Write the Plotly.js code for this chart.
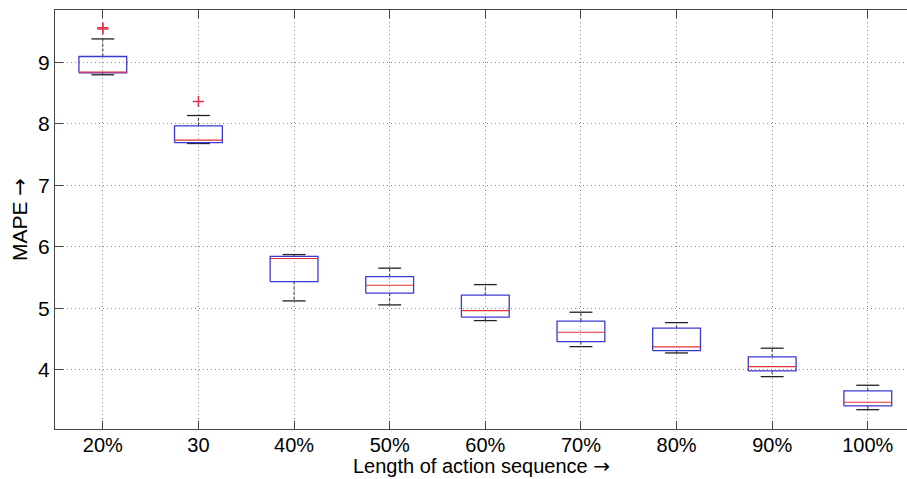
<!DOCTYPE html>
<html>
<head>
<meta charset="utf-8">
<script src="https://cdn.plot.ly/plotly-3.0.1.min.js"></script>
<style>html,body{margin:0;padding:0;background:#fff;overflow:hidden}#chart{width:907px;height:479px}</style>
</head>
<body>
<div id="chart"></div>
<script>
// Data (MAPE per sequence length)
var categories = ["20%", "30", "40%", "50%", "60%", "70%", "80%", "90%", "100%"];
var upperWhisker = [9.38, 8.135, 5.875, 5.654, 5.387, 4.938, 4.769, 4.353, 3.751];
var q3Values     = [9.094, 7.967, 5.846, 5.517, 5.215, 4.792, 4.678, 4.211, 3.659];
var medians      = [8.841, 7.735, 5.810, 5.377, 4.964, 4.613, 4.374, 4.054, 3.475];
var q1Values     = [8.829, 7.696, 5.436, 5.247, 4.857, 4.460, 4.314, 3.984, 3.415];
var lowerWhisker = [8.797, 7.680, 5.122, 5.057, 4.802, 4.379, 4.276, 3.891, 3.354];
var outlierCategory = ["20%", "20%", "30"];
var outlierValues   = [9.54, 9.56, 8.363];
var xTitle = 'Length of action sequence';
var yTitle = 'MAPE';

var BOX_HALF = 0.25, CAP_HALF = 0.12;
var idx = function(c){ return categories.indexOf(c); };

var bx=[],by=[],mx=[],my=[],wx=[],wy=[],cx=[],cy=[];
categories.forEach(function(c,i){
  bx.push(i-BOX_HALF,i+BOX_HALF,i+BOX_HALF,i-BOX_HALF,i-BOX_HALF,null);
  by.push(q1Values[i],q1Values[i],q3Values[i],q3Values[i],q1Values[i],null);
  mx.push(i-BOX_HALF,i+BOX_HALF,null);
  my.push(medians[i],medians[i],null);
  wx.push(i,i,null,i,i,null);
  wy.push(q3Values[i],upperWhisker[i],null,q1Values[i],lowerWhisker[i],null);
  cx.push(i-CAP_HALF,i+CAP_HALF,null,i-CAP_HALF,i+CAP_HALF,null);
  cy.push(upperWhisker[i],upperWhisker[i],null,lowerWhisker[i],lowerWhisker[i],null);
});

var traces = [
  {x:wx,y:wy,mode:'lines',line:{color:'#333',width:1,dash:'3px,2px'},hoverinfo:'skip'},
  {x:cx,y:cy,mode:'lines',line:{color:'#222',width:1.3},hoverinfo:'skip'},
  {x:bx,y:by,mode:'lines',line:{color:'#3a3ad0',width:1.3},hoverinfo:'skip'},
  {x:mx,y:my,mode:'lines',line:{color:'#e0303a',width:1.1},hoverinfo:'skip'},
  {x:outlierCategory.map(idx),y:outlierValues,mode:'markers',
   marker:{symbol:'cross-thin',size:8,line:{color:'#e8304a',width:1.5}},hoverinfo:'skip'}
];

var FAM = 'Liberation Sans, Arial, sans-serif';
var ARROW = '<span style="font-family:DejaVu Sans">\u2192</span>';
var font = {family:FAM, size:20, color:'#000'};
var layout = {
  width:907, height:479,
  margin:{l:55,r:0,t:10,b:50},
  showlegend:false,
  paper_bgcolor:'#fff', plot_bgcolor:'#fff',
  font:font,
  xaxis:{
    range:[-0.5,8.41],
    tickvals:categories.map(function(c,i){return i;}),
    ticktext:categories,
    ticks:'inside', ticklen:8, tickcolor:'#444', tickwidth:1,
    showline:true, linecolor:'#444', linewidth:1, mirror:'ticks',
    showgrid:true, gridcolor:'#888', griddash:'1px,3px', gridwidth:1,
    zeroline:false,
    ticklabelstandoff:-2,
    tickfont:{family:FAM,size:20,color:'#000'}
  },
  yaxis:{
    range:[3.04,9.85],
    tickvals:[4,5,6,7,8,9],
    ticks:'inside', ticklen:8, tickcolor:'#444', tickwidth:1,
    showline:true, linecolor:'#444', linewidth:1, mirror:false,
    showgrid:true, gridcolor:'#888', griddash:'1px,3px', gridwidth:1,
    zeroline:false,
    tickfont:{family:FAM,size:21,color:'#000'},
    title:{text:yTitle + ' ' + ARROW, font:{family:FAM,size:21,color:'#000'}, standoff:4}
  },
  annotations:[{
    text: xTitle + ' ' + ARROW, xref:'paper', yref:'paper', x:0.5, y:0,
    xanchor:'center', yanchor:'bottom', yshift:-50, showarrow:false,
    font:{family:FAM,size:20,color:'#000'}, borderpad:0
  }]
};
Plotly.newPlot('chart',traces,layout,{displayModeBar:false,staticPlot:true});
</script>
</body>
</html>
